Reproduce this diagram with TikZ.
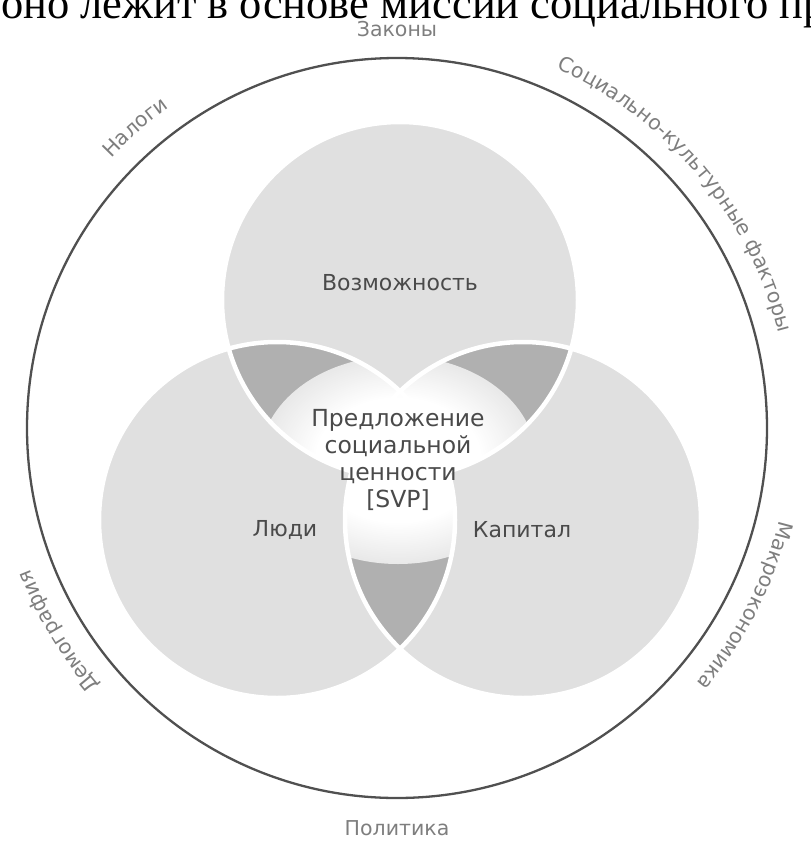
\documentclass[tikz,border=0pt]{standalone}
\usepackage{fontspec}
\setmainfont{DejaVu Sans}
\newfontfamily\headserif{Liberation Serif}
\usetikzlibrary{decorations.text,fadings}

\definecolor{circfill}{HTML}{E0E0E0}
\definecolor{lensfill}{HTML}{B0B0B0}
\definecolor{ringline}{HTML}{505050}
\definecolor{outertext}{HTML}{7E7E7E}
\definecolor{innertext}{HTML}{4A4A4A}

% soft white halo behind the central caption
\pgfdeclareradialshading{glowshade}{\pgfpointorigin}{color(0bp)=(white); color(15bp)=(white); color(50bp)=(black)}
\pgfdeclarefading{glowfade}{\pgfuseshading{glowshade}}

\newcommand\ringfont{\fontsize{20.5}{21}\selectfont}
\newcommand\halo{\fill[white, path fading=glowfade] (398,-460) ellipse [x radius=138, y radius=104];}

\begin{document}
\begin{tikzpicture}[x=1pt,y=1pt,
  innerlbl/.style={inner sep=0pt, text=innertext, font=\fontsize{22}{24}\selectfont},
  centrelbl/.style={inner sep=0pt, text=innertext, align=center, font=\fontsize{23.5}{27}\selectfont},
  outerlbl/.style={inner sep=0pt, text=outertext, font=\ringfont},
  arclbl/.style={decorate, decoration={text along path, text align=center, text color=outertext, text={|\ringfont|#1}}}
]
\useasboundingbox (0,0) rectangle (811,-844);

% running text cut by the page edge
\node[anchor=base west, inner sep=0pt, font=\headserif\fontsize{44.5}{44.5}\selectfont] (head) at (1,-18) {оно лежит в основе миссии социального пр};

\coordinate (O) at (397,-428);
\coordinate (cT) at (400,-300);
\coordinate (cL) at (277,-520);
\coordinate (cR) at (523,-520);
\def\vr{178}

% three circles
\fill[circfill] (cT) circle (\vr) (cL) circle (\vr) (cR) circle (\vr);

% pairwise overlaps, each lit by the halo
\begin{scope}
  \clip (cT) circle (\vr);
  \fill[lensfill] (cL) circle (\vr) (cR) circle (\vr);
\end{scope}
\begin{scope}
  \clip (cL) circle (\vr);
  \fill[lensfill] (cR) circle (\vr);
\end{scope}
\begin{scope}
  \clip (cT) circle (\vr);
  \clip (cL) circle (\vr);
  \halo
\end{scope}
\begin{scope}
  \clip (cT) circle (\vr);
  \clip (cR) circle (\vr);
  \halo
\end{scope}
\begin{scope}
  \clip (cL) circle (\vr);
  \clip (cR) circle (\vr);
  \halo
\end{scope}

% white separating outlines
\draw[white, line width=4.5pt] (cT) circle (\vr) (cL) circle (\vr) (cR) circle (\vr);

% outer ring
\draw[ringline, line width=2.3pt] (O) circle (370);

% labels inside
\node[innerlbl] (opp) at (400,-283) {Возможность};
\node[innerlbl] (people) at (285,-530) {Люди};
\node[innerlbl] (capital) at (522,-530) {Капитал};
\node[centrelbl] (svp) at (398,-460) {Предложение\\социальной\\ценности\\{[SVP]}};

% labels round the ring
\node[outerlbl, anchor=base] (laws) at (397,-36) {Законы};
\node[outerlbl, anchor=base] (policy) at (397,-835) {Политика};
\path[arclbl=Налоги] (O) ++(161:393) arc[start angle=161, end angle=101, radius=393];
\path[arclbl=Социально-культурные факторы] (O) ++(85:393) arc[start angle=85, end angle=-5, radius=393];
\path[arclbl=Макроэкономика] (O) ++(8:393) arc[start angle=8, end angle=-62, radius=393];
\path[arclbl=Демография] (O) ++(241:393) arc[start angle=241, end angle=181, radius=393];
\end{tikzpicture}
\end{document}
